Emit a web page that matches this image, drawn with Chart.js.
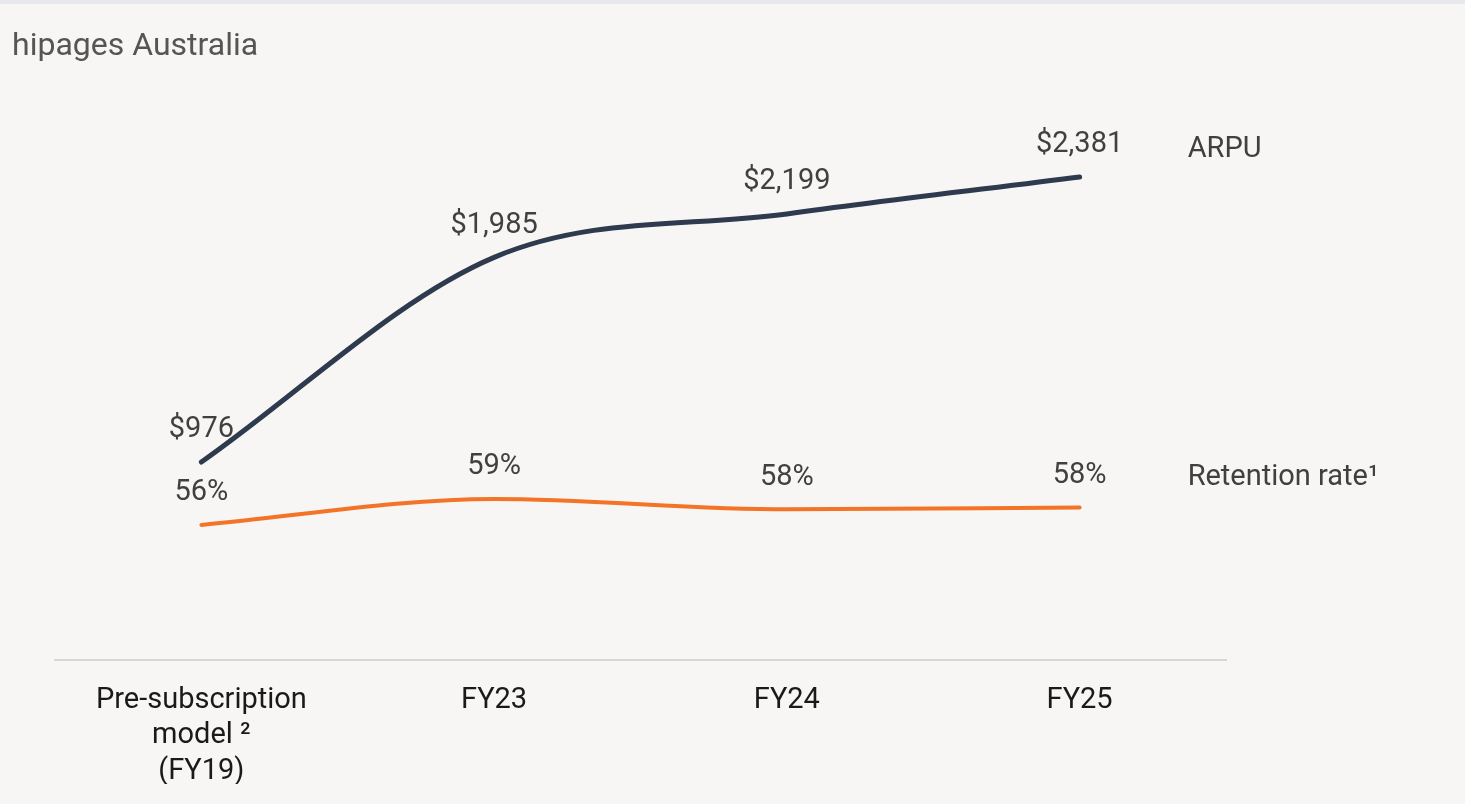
<!DOCTYPE html>
<html>
<head>
<meta charset="utf-8">
<script src="https://cdn.jsdelivr.net/npm/chart.js@4.4.1/dist/chart.umd.min.js"></script>
<style>
  html, body { margin: 0; padding: 0; background: #f7f6f4; }
  body { width: 1465px; height: 804px; overflow: hidden; position: relative; font-family: Roboto, sans-serif; }
  .topbar { position: absolute; left: 0; top: 0; width: 1465px; height: 4px; background: #e6e8eb; }
  .title { position: absolute; left: 12px; top: 28px; font-size: 32px; line-height: 32px; color: #555555; }
  #wrap { position: absolute; left: 0; top: 0; width: 1465px; height: 804px; }
</style>
</head>
<body>
<div class="topbar"></div>
<div id="wrap"><canvas id="arpuChart"></canvas></div>
<div class="title">hipages Australia</div>
<script>
const categories = [["Pre-subscription", "model \u00B2", "(FY19)"], "FY23", "FY24", "FY25"];
const arpuValues = [976, 1985, 2199, 2381];
const arpuLabels = ["$976", "$1,985", "$2,199", "$2,381"];
const retentionValues = [56, 59, 57.8, 58];
const retentionLabels = ["56%", "59%", "58%", "58%"];
const seriesNames = ["ARPU", "Retention rate\u00B9"];

// value labels above each point + series names at the right
const labelPlugin = {
  id: 'pointLabels',
  afterDatasetsDraw(chart) {
    const ctx = chart.ctx;
    const sets = [arpuLabels, retentionLabels];
    ctx.save();
    ctx.font = '29px Roboto';
    ctx.fillStyle = '#404040';
    ctx.textBaseline = 'middle';
    chart.data.datasets.forEach((ds, i) => {
      const meta = chart.getDatasetMeta(i);
      meta.data.forEach((pt, j) => {
        ctx.textAlign = 'center';
        ctx.fillText(sets[i][j], pt.x, pt.y - 32);
      });
      const last = meta.data[meta.data.length - 1];
      ctx.textAlign = 'left';
      ctx.fillText(seriesNames[i], last.x + 108, i === 0 ? last.y - 27 : last.y - 30);
    });
    ctx.restore();
  }
};

const ctx = document.getElementById('arpuChart').getContext('2d');
const chart = new Chart(ctx, {
  type: 'line',
  data: {
    labels: categories,
    datasets: [
      {
        label: 'ARPU',
        data: arpuValues,
        yAxisID: 'y',
        borderColor: '#2e3a4e',
        borderWidth: 5,
        pointRadius: 0,
        borderCapStyle: 'round',
        cubicInterpolationMode: 'monotone'
      },
      {
        label: 'Retention rate',
        data: retentionValues,
        yAxisID: 'y2',
        borderColor: '#f37327',
        borderWidth: 4,
        pointRadius: 0,
        borderCapStyle: 'round',
        cubicInterpolationMode: 'monotone'
      }
    ]
  },
  options: {
    responsive: true,
    maintainAspectRatio: false,
    animation: false,
    layout: { padding: { left: 55, right: 239, top: 92, bottom: 20 } },
    plugins: {
      legend: { display: false },
      tooltip: { enabled: false }
    },
    scales: {
      x: {
        offset: true,
        grid: { display: false, drawTicks: false },
        border: { display: true, color: '#d6d6d6', width: 2 },
        ticks: {
          color: '#1a1a1a',
          font: { family: 'Roboto', size: 29, lineHeight: 1.22 },
          padding: 23,
          maxRotation: 0,
          autoSkip: false
        },
        afterFit(scale) { scale.height = 124; }
      },
      y: {
        display: false,
        min: 0,
        max: 2800
      },
      y2: {
        display: false,
        min: 40.4,
        max: 106
      }
    }
  },
  plugins: [labelPlugin]
});
</script>
</body>
</html>
